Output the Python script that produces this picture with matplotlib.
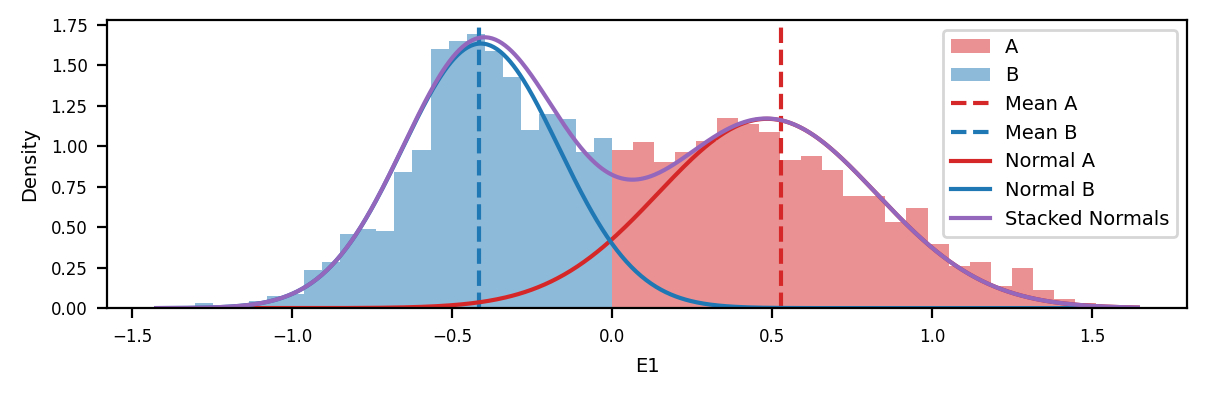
import numpy as np
import matplotlib
matplotlib.use("Agg")
import matplotlib.pyplot as plt
from matplotlib.ticker import MultipleLocator

# histogram heights (density), 25 bins per group
a_range = (0.0, 1.644)
a_heights = [0.977, 1.027, 0.903, 0.965, 1.03, 1.175, 1.138, 1.088, 0.915, 0.940,
             0.853, 0.693, 0.693, 0.532, 0.618, 0.396, 0.262, 0.284, 0.136, 0.247,
             0.111, 0.056, 0.029, 0.012, 0.008]

b_range = (-1.4175, 0.0)
b_heights = [0.008, 0.0, 0.031, 0.004, 0.004, 0.043, 0.074, 0.086, 0.235, 0.283,
             0.458, 0.487, 0.476, 0.841, 0.977, 1.600, 1.651, 1.694, 1.589, 1.427,
             1.101, 1.200, 1.169, 0.963, 1.051]

# means and fitted normals
mean_a = 0.529
mean_b = -0.416
norm_a = (0.485, 0.341)   # mu, sigma
norm_b = (-0.41, 0.244)
curve_range = (-1.425, 1.644)


def pdf(x, mu, sigma):
    return np.exp(-0.5 * ((x - mu) / sigma) ** 2) / (sigma * np.sqrt(2 * np.pi))


fig, ax = plt.subplots(figsize=(6.035, 1.97), dpi=200)
fig.subplots_adjust(left=0.0887, right=0.9834, top=0.949, bottom=0.218)

edges_a = np.linspace(a_range[0], a_range[1], len(a_heights) + 1)
edges_b = np.linspace(b_range[0], b_range[1], len(b_heights) + 1)
bars_a = ax.bar(edges_a[:-1], a_heights, width=np.diff(edges_a), align='edge',
                color='tab:red', alpha=0.5, linewidth=0, label='A')
bars_b = ax.bar(edges_b[:-1], b_heights, width=np.diff(edges_b), align='edge',
                color='tab:blue', alpha=0.5, linewidth=0, label='B')

la = ax.axvline(mean_a, color='tab:red', linestyle='--', label='Mean A')
lb = ax.axvline(mean_b, color='tab:blue', linestyle='--', label='Mean B')

x = np.linspace(curve_range[0], curve_range[1], 600)
ya = pdf(x, *norm_a)
yb = pdf(x, *norm_b)
na, = ax.plot(x, ya, color='tab:red', label='Normal A')
nb, = ax.plot(x, yb, color='tab:blue', label='Normal B')
ns, = ax.plot(x, ya + yb, color='tab:purple', label='Stacked Normals')

ax.set_ylim(0, 1.78)
ax.yaxis.set_major_locator(MultipleLocator(0.25))
ax.set_xlabel('E1', fontsize=7)
ax.set_ylabel('Density', fontsize=7)
ax.tick_params(labelsize=6)

ax.legend(handles=[bars_a, bars_b, la, lb, na, nb, ns], loc='upper right', fontsize=7)

fig.savefig('out.png', dpi=200)
